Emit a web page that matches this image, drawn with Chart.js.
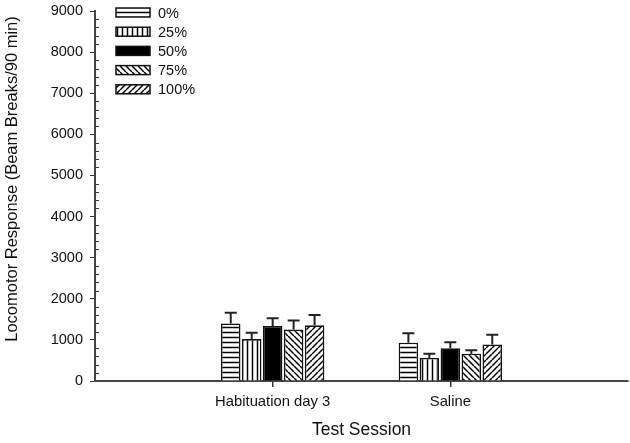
<!DOCTYPE html>
<html>
<head>
<meta charset="utf-8">
<script src="https://cdn.jsdelivr.net/npm/chart.js@4"></script>
<style>
  html, body { margin: 0; padding: 0; background: #fff; }
  #wrap { width: 630px; height: 443px; }
</style>
</head>
<body>
<div id="wrap"><canvas id="grafico" width="630" height="443"></canvas></div>
<script>
// categorias (con huecos a los lados para que queden en 1/3 y 2/3 del eje)
const categorias = ["", "Habituation day 3", "Saline", ""];
const series = ["0%", "25%", "50%", "75%", "100%"];

// medias y error estandar (solo hacia arriba)
const media0 = [null, 1400, 930, null];
const media25 = [null, 1020, 560, null];
const media50 = [null, 1340, 795, null];
const media75 = [null, 1250, 665, null];
const media100 = [null, 1355, 890, null];

const error0 = [null, 260, 230, null];
const error25 = [null, 155, 100, null];
const error50 = [null, 185, 145, null];
const error75 = [null, 220, 85, null];
const error100 = [null, 250, 235, null];

const medias = [media0, media25, media50, media75, media100];
const errores = [error0, error25, error50, error75, error100];
const tramas = ["horizontal", "vertical", "solido", "invertida", "diagonal"];

const fuente = "Arial, 'Liberation Sans', sans-serif";
const tituloY = "Locomotor Response (Beam Breaks/90 min)";

// tramas de relleno
function crearTrama(tipo) {
  if (tipo === "solido") return "#000";
  const c = document.createElement("canvas");
  const s = tipo === "horizontal" || tipo === "vertical" ? 5 : 6;
  c.width = s; c.height = s;
  const g = c.getContext("2d");
  g.fillStyle = "#fff";
  g.fillRect(0, 0, s, s);
  g.strokeStyle = "#000";
  g.lineWidth = 1.5;
  g.beginPath();
  if (tipo === "horizontal") {
    g.moveTo(0, 2.5); g.lineTo(s, 2.5);
  } else if (tipo === "vertical") {
    g.moveTo(2.5, 0); g.lineTo(2.5, s);
  } else if (tipo === "invertida") {
    for (const o of [-s, 0, s]) { g.moveTo(o, 0); g.lineTo(o + s, s); }
  } else {
    for (const o of [-s, 0, s]) { g.moveTo(o, s); g.lineTo(o + s, 0); }
  }
  g.stroke();
  return g.createPattern(c, "repeat");
}

const rellenos = tramas.map(crearTrama);

// barras de error
const barrasError = {
  id: "barrasError",
  afterDatasetsDraw(chart) {
    const ctx = chart.ctx;
    const y = chart.scales.y;
    ctx.save();
    ctx.strokeStyle = "#222";
    ctx.lineWidth = 2;
    chart.data.datasets.forEach((ds, i) => {
      const meta = chart.getDatasetMeta(i);
      meta.data.forEach((bar, j) => {
        const v = ds.data[j];
        if (v == null) return;
        const tope = y.getPixelForValue(v + errores[i][j]);
        ctx.beginPath();
        ctx.moveTo(bar.x, bar.y);
        ctx.lineTo(bar.x, tope);
        ctx.moveTo(bar.x - 6, tope);
        ctx.lineTo(bar.x + 6, tope);
        ctx.stroke();
      });
    });
    ctx.restore();
  }
};

// marcas menores del eje Y (hacia dentro) y titulo del eje Y
const marcasMenores = {
  id: "marcasMenores",
  afterDraw(chart) {
    const ctx = chart.ctx;
    const y = chart.scales.y;
    const x0 = chart.chartArea.left;
    ctx.save();
    ctx.strokeStyle = "#333";
    ctx.lineWidth = 1;
    ctx.beginPath();
    for (let v = 200; v < 9000; v += 200) {
      if (v % 1000 === 0) continue;
      const py = Math.round(y.getPixelForValue(v)) + 0.5;
      ctx.moveTo(x0, py);
      ctx.lineTo(x0 + 4, py);
    }
    ctx.stroke();
    ctx.translate(12.5, 179);
    ctx.rotate(-Math.PI / 2);
    ctx.font = "16.5px " + fuente;
    ctx.fillStyle = "#111";
    ctx.textAlign = "center";
    ctx.textBaseline = "middle";
    ctx.fillText(tituloY, 0, 0);
    ctx.restore();
  }
};

// leyenda dibujada a mano dentro del area
const leyenda = {
  id: "leyenda",
  afterDraw(chart) {
    const ctx = chart.ctx;
    ctx.save();
    ctx.font = "14.5px " + fuente;
    ctx.textBaseline = "middle";
    series.forEach((nombre, i) => {
      const cy = 12.5 + i * 19.2;
      ctx.fillStyle = rellenos[i];
      ctx.fillRect(116, cy - 4.5, 34, 9);
      ctx.strokeStyle = "#111";
      ctx.lineWidth = 1.5;
      ctx.strokeRect(116, cy - 4.5, 34, 9);
      ctx.fillStyle = "#111";
      ctx.fillText(nombre, 158, cy + 1);
    });
    ctx.restore();
  }
};

const ctx = document.getElementById("grafico").getContext("2d");

const grafico = new Chart(ctx, {
  type: "bar",
  data: {
    labels: categorias,
    datasets: series.map((nombre, i) => ({
      label: nombre,
      data: medias[i],
      backgroundColor: rellenos[i],
      borderColor: "#111",
      borderWidth: 1.6,
      categoryPercentage: 0.59,
      barPercentage: 0.93
    }))
  },
  options: {
    responsive: false,
    animation: false,
    layout: { padding: { top: 11, right: 2, left: 0, bottom: 0 } },
    scales: {
      x: {
        offset: false,
        grid: {
          offset: false,
          drawOnChartArea: false,
          tickLength: 6,
          color: (c) => (c.index === 1 || c.index === 2 ? "#333" : "rgba(0,0,0,0)"),
          lineWidth: 1.5
        },
        border: { color: "#444", width: 2 },
        ticks: {
          color: "#111",
          font: { size: 14.8, family: fuente },
          padding: 6,
          maxRotation: 0,
          autoSkip: false
        },
        title: {
          display: true,
          text: "Test Session",
          color: "#111",
          font: { size: 17.5, family: fuente },
          padding: { top: 0, bottom: 2 }
        },
        afterFit: (scale) => {
          scale.height = 62;
          scale.paddingLeft = 0;
          scale.paddingRight = 0;
        }
      },
      y: {
        min: 0,
        max: 9000,
        ticks: {
          stepSize: 1000,
          color: "#111",
          font: { size: 14.5, family: fuente },
          padding: 7,
          callback: (v) => String(v)
        },
        grid: {
          drawOnChartArea: false,
          tickLength: 5,
          color: "#333",
          lineWidth: 1
        },
        border: { color: "#444", width: 2 },
        afterFit: (scale) => {
          scale.width = 95;
          scale.paddingTop = 0;
          scale.paddingBottom = 0;
        }
      }
    },
    plugins: {
      legend: { display: false },
      tooltip: { enabled: false }
    }
  },
  plugins: [barrasError, marcasMenores, leyenda]
});
</script>
</body>
</html>
